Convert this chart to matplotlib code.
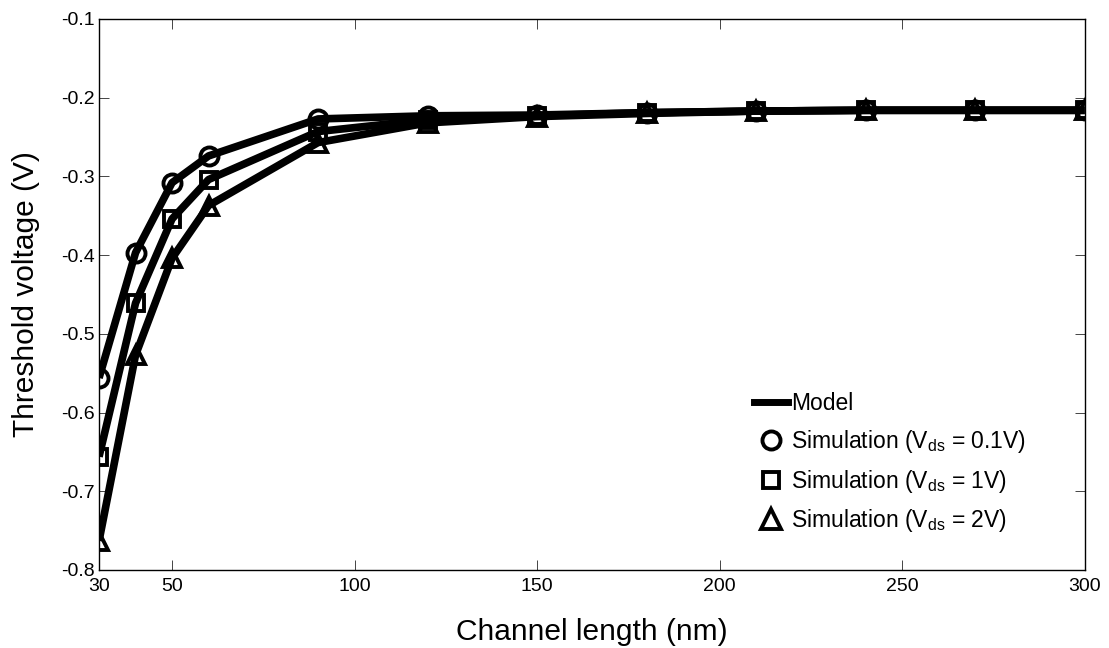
import matplotlib
matplotlib.use("Agg")
import matplotlib.pyplot as plt
from matplotlib.lines import Line2D

plt.rcParams['font.family'] = ['Liberation Sans', 'DejaVu Sans']
plt.rcParams['mathtext.default'] = 'regular'

length_nm = [30, 40, 50, 60, 90, 120, 150, 180, 210, 240, 270, 300]
vth_01V = [-0.556, -0.397, -0.308, -0.274, -0.227, -0.223, -0.222, -0.219, -0.217, -0.216, -0.216, -0.216]
vth_1V = [-0.656, -0.461, -0.354, -0.304, -0.243, -0.228, -0.223, -0.219, -0.217, -0.216, -0.216, -0.216]
vth_2V = [-0.763, -0.527, -0.404, -0.337, -0.257, -0.232, -0.224, -0.220, -0.217, -0.216, -0.216, -0.216]

x_ticks = [30, 50, 100, 150, 200, 250, 300]
y_ticks = [-0.8, -0.7, -0.6, -0.5, -0.4, -0.3, -0.2, -0.1]
y_tick_labels = ['-0.8', '-0.7', '-0.6', '-0.5', '-0.4', '-0.3', '-0.2', '-0.1']

fig = plt.figure(figsize=(11.09, 6.48), dpi=100)
ax = fig.add_axes([0.0893, 0.1204, 0.8887, 0.8503])

series = [(vth_01V, 'o'), (vth_1V, 's'), (vth_2V, '^')]
for vals, m in series:
    ax.plot(length_nm, vals, color='black', lw=5.5, solid_capstyle='butt', zorder=2)
for vals, m in series:
    ax.plot(length_nm, vals, ls='none', marker=m, ms=13 if m != 's' else 12,
            mfc='none', mec='black', mew=2.8, zorder=3)

ax.set_xlim(30, 300)
ax.set_ylim(-0.8, -0.1)
ax.set_xticks(x_ticks)
ax.set_yticks(y_ticks)
ax.set_yticklabels(y_tick_labels)
ax.tick_params(direction='in', top=True, right=True, length=7, width=0.7,
               color='#444444', labelsize=14)
ax.tick_params(axis='x', pad=6)
ax.tick_params(axis='y', pad=3)
for s in ax.spines.values():
    s.set_linewidth(1.0)

ax.set_xlabel('Channel length (nm)', fontsize=21.5, labelpad=16)
ax.set_ylabel('Threshold voltage (V)', fontsize=21.5, labelpad=15)

handles = [
    Line2D([], [], color='black', lw=5),
    Line2D([], [], ls='none', marker='o', ms=13, mfc='none', mec='black', mew=2.8),
    Line2D([], [], ls='none', marker='s', ms=12, mfc='none', mec='black', mew=2.8),
    Line2D([], [], ls='none', marker='^', ms=14, mfc='none', mec='black', mew=2.8),
]
labels = ['Model',
          'Simulation (V$_{ds}$ = 0.1V)',
          'Simulation (V$_{ds}$ = 1V)',
          'Simulation (V$_{ds}$ = 2V)']
ax.legend(handles, labels, loc='lower right', bbox_to_anchor=(0.955, 0.04),
          frameon=False, fontsize=16.5, handlelength=1.5, handletextpad=0.15,
          labelspacing=0.55, borderaxespad=0.2)

fig.savefig('out.png', dpi=100)
